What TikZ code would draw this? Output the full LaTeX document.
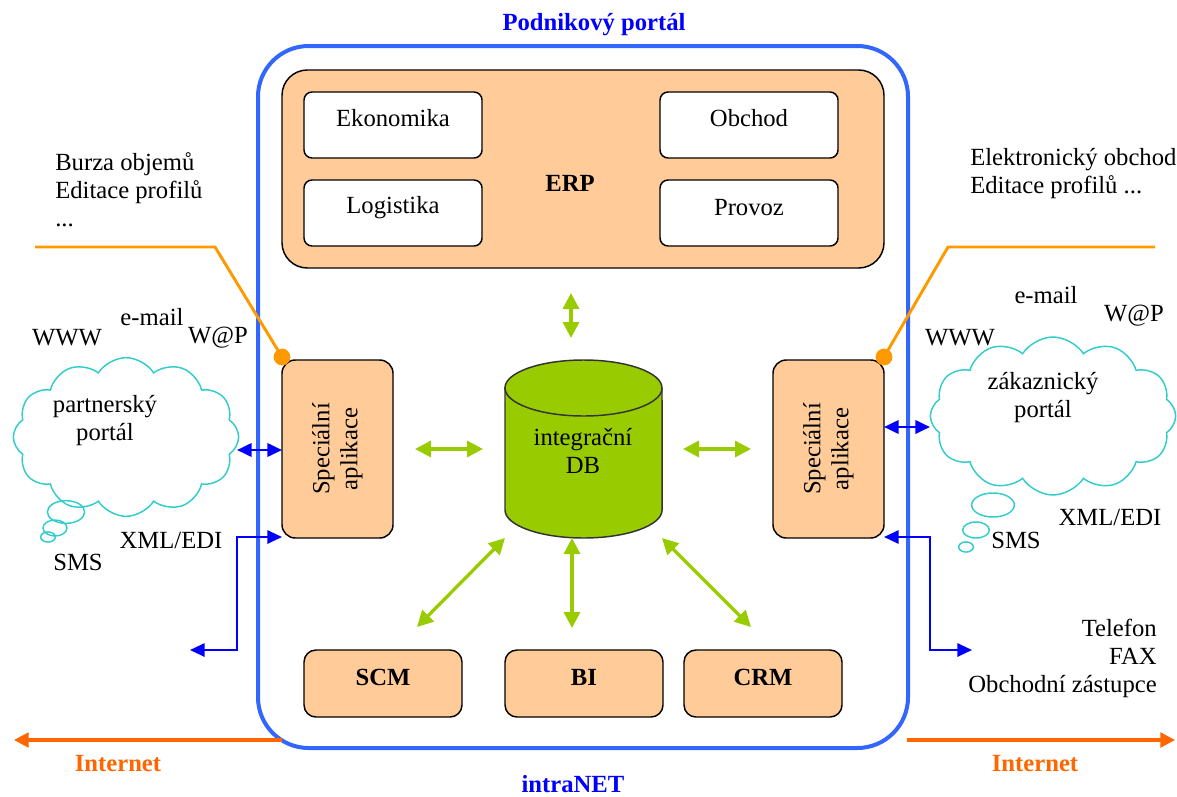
\documentclass[tikz,border=0pt]{standalone}
\usepackage{fontspec}
\setmainfont{Liberation Serif}
\usetikzlibrary{arrows.meta,shapes.symbols}

\definecolor{portalblue}{HTML}{3366FF}
\definecolor{labelblue}{HTML}{0000FF}
\definecolor{peach}{HTML}{FFCC99}
\definecolor{dbgreen}{HTML}{99CC00}
\definecolor{calloutorange}{HTML}{FF9900}
\definecolor{netorange}{HTML}{FF6600}
\definecolor{cloudcyan}{HTML}{33CCCC}

\tikzset{
  txt/.style={font=\fontsize{18.5}{21}\selectfont, inner sep=0pt},
  boldtxt/.style={font=\fontsize{18.5}{21}\selectfont\bfseries, inner sep=0pt},
  portalbox/.style={draw=portalblue, line width=3pt, rounded corners=38pt},
  erpbox/.style={draw=black, line width=1.1pt, fill=peach, rounded corners=19pt},
  modbox/.style={draw=black, line width=1.1pt, fill=white, rounded corners=6pt,
    minimum width=133.5pt, minimum height=49.5pt},
  specbox/.style={draw=black, line width=1.1pt, fill=peach, rounded corners=10pt,
    minimum width=83.25pt, minimum height=133.5pt},
  appbox/.style={draw=black, line width=1.1pt, fill=peach, rounded corners=9pt,
    minimum width=118.5pt, minimum height=50.25pt},
  greenlink/.style={draw=dbgreen, line width=2.5pt,
    {Triangle[length=12pt,width=12pt]}-{Triangle[length=12pt,width=12pt]}},
  bluelink/.style={draw=labelblue, line width=2pt,
    {Triangle[length=11pt,width=10pt]}-{Triangle[length=11pt,width=10pt]}},
  bluepath/.style={draw=labelblue, line width=1.5pt,
    {Triangle[length=11pt,width=10pt]}-{Triangle[length=11pt,width=10pt]}},
  callout/.style={draw=calloutorange, line width=2.2pt},
  netarrow/.style={draw=netorange, line width=2.5pt, -{Triangle[length=11pt,width=11pt]}},
  bubble/.style={draw=cloudcyan, line width=1.1pt},
  portalcloud/.style={cloud, cloud puffs=12, cloud puff arc=115, draw=cloudcyan,
    line width=1.1pt, inner sep=0pt}
}

\begin{document}
\begin{tikzpicture}[x=0.75pt, y=-0.75pt]
\useasboundingbox (0,0) rectangle (1177,796);

% enterprise portal frame
\node[portalbox, minimum width=487.5pt, minimum height=526.5pt] (portal) at (583,397) {};
\node[boldtxt, text=labelblue] (portaltitle) at (594,25) {Podnikový portál};
\node[boldtxt, text=labelblue] (intranet) at (573,784) {intraNET};

% ERP block with its modules
\node[erpbox, minimum width=451.5pt, minimum height=148.5pt] (erp) at (583,169) {};
\node[boldtxt] (erplabel) at (570,183) {ERP};
\node[modbox] (ekon) at (393,125) {};
\node[txt] (ekontxt) at (393,118) {Ekonomika};
\node[modbox] (obchod) at (749,125) {};
\node[txt] (obchodtxt) at (749,118) {Obchod};
\node[modbox] (logist) at (393,213) {};
\node[txt] (logisttxt) at (393,208) {Logistika};
\node[modbox] (provoz) at (749,213) {};
\node[txt] (provoztxt) at (749,208) {Provoz};

% special applications
\node[specbox] (specL) at (337.5,449) {};
\node[txt, rotate=90, align=center] (specLtxt) at (337.5,449) {Speciální\\aplikace};
\node[specbox] (specR) at (828.5,449) {};
\node[txt, rotate=90, align=center] (specRtxt) at (828.5,449) {Speciální\\aplikace};

% integration database
\filldraw[fill=dbgreen, draw=black!80, line width=1.1pt]
  (505,388) -- (505,510) arc[start angle=180, end angle=360, x radius=58.9pt, y radius=21pt]
  -- (662,388) arc[start angle=0, end angle=180, x radius=58.9pt, y radius=21pt] -- cycle;
\draw[draw=black!80, line width=1.1pt]
  (505,388) arc[start angle=180, end angle=360, x radius=58.9pt, y radius=21pt];
\node[txt, align=center] (db) at (583,451) {integrační\\DB};

% bottom applications
\node[appbox] (scm) at (383,683.5) {};
\node[boldtxt] (scmtxt) at (383,677) {SCM};
\node[appbox] (bi) at (584,683.5) {};
\node[boldtxt] (bitxt) at (584,677) {BI};
\node[appbox] (crm) at (763,683.5) {};
\node[boldtxt] (crmtxt) at (763,677) {CRM};

% green data links around the database
\coordinate (gTopA) at (571,293);   \coordinate (gTopB) at (571,338);
\coordinate (gLeftA) at (415,449);  \coordinate (gLeftB) at (483,449);
\coordinate (gRightA) at (683,449); \coordinate (gRightB) at (751,449);
\coordinate (gDlA) at (417,627);    \coordinate (gDlB) at (505,538);
\coordinate (gMidA) at (572,538);   \coordinate (gMidB) at (572,628);
\coordinate (gDrA) at (662,538);    \coordinate (gDrB) at (751,627);
\draw[greenlink] (gTopA) -- (gTopB);
\draw[greenlink] (gLeftA) -- (gLeftB);
\draw[greenlink] (gRightA) -- (gRightB);
\draw[greenlink] (gDlA) -- (gDlB);
\draw[greenlink] (gMidA) -- (gMidB);
\draw[greenlink] (gDrA) -- (gDrB);

% callout lines with dots
\coordinate (dotL) at (282,357);
\coordinate (dotR) at (884,357);
\coordinate (callLa) at (35,247);  \coordinate (callLb) at (215,247);
\coordinate (callRa) at (948,247); \coordinate (callRb) at (1155,247);
\draw[callout] (callLa) -- (callLb) -- (dotL);
\draw[callout] (dotR) -- (callRa) -- (callRb);
\fill[calloutorange] (dotL) circle[radius=6.3pt];
\fill[calloutorange] (dotR) circle[radius=6.3pt];

% left portal cloud
\node[portalcloud, minimum width=169pt, minimum height=119pt] (cloudL) at (126,437) {};
\node[txt, align=center] (cloudLtxt) at (105,421) {partnerský\\portál};
\draw[bubble] (66,512) ellipse[x radius=14pt, y radius=8.5pt];
\draw[bubble] (55,528) ellipse[x radius=9pt, y radius=6pt];
\draw[bubble] (48,537) ellipse[x radius=5.5pt, y radius=3.8pt];

% right portal cloud
\node[portalcloud, minimum width=184pt, minimum height=118.5pt] (cloudR) at (1053,416) {};
\node[txt, align=center] (cloudRtxt) at (1043,398) {zákaznický\\portál};
\draw[bubble] (993,505) ellipse[x radius=16pt, y radius=9pt];
\draw[bubble] (976,530) ellipse[x radius=10pt, y radius=6pt];
\draw[bubble] (966,547) ellipse[x radius=5.5pt, y radius=3.8pt];

% channel labels
\node[txt] (wwwL) at (67,338) {WWW};
\node[txt] (mailL) at (152,317) {e-mail};
\node[txt] (wapL) at (218,338) {W@P};
\node[txt] (smsL) at (78,562) {SMS};
\node[txt] (xmlL) at (171,540) {XML/EDI};
\node[txt] (wwwR) at (960,338) {WWW};
\node[txt] (mailR) at (1046,295) {e-mail};
\node[txt] (wapR) at (1134,316) {W@P};
\node[txt] (smsR) at (1016,540) {SMS};
\node[txt] (xmlR) at (1110,517) {XML/EDI};

\node[txt, align=left, anchor=west] (servL) at (55,190) {Burza objemů\\Editace profilů\\...};
\node[txt, align=left, anchor=west] (servR) at (970,174) {Elektronický obchod\\Editace profilů ...};
\node[txt, align=right, anchor=east] (offline) at (1157,658) {Telefon\\FAX\\Obchodní zástupce};

% blue channel links
\coordinate (bLa) at (237,450);  \coordinate (bLb) at (282,450);
\coordinate (bRa) at (884,427);  \coordinate (bRb) at (930,427);
\draw[bluelink] (bLa) -- (bLb);
\draw[bluelink] (bRa) -- (bRb);
\coordinate (xLend) at (190,650); \coordinate (xLbox) at (282,537);
\coordinate (xRend) at (972,650); \coordinate (xRbox) at (884,537);
\draw[bluepath] (xLend) -- (237,650) -- (237,537) -- (xLbox);
\draw[bluepath] (xRbox) -- (930,537) -- (930,650) -- (xRend);

% internet arrows
\coordinate (netLa) at (282,740); \coordinate (netLb) at (14,740);
\coordinate (netRa) at (907,740); \coordinate (netRb) at (1175,740);
\draw[netarrow] (netLa) -- (netLb);
\draw[netarrow] (netRa) -- (netRb);
\node[boldtxt, text=netorange] (inetL) at (118,764) {Internet};
\node[boldtxt, text=netorange] (inetR) at (1035,764) {Internet};
\end{tikzpicture}
\end{document}
